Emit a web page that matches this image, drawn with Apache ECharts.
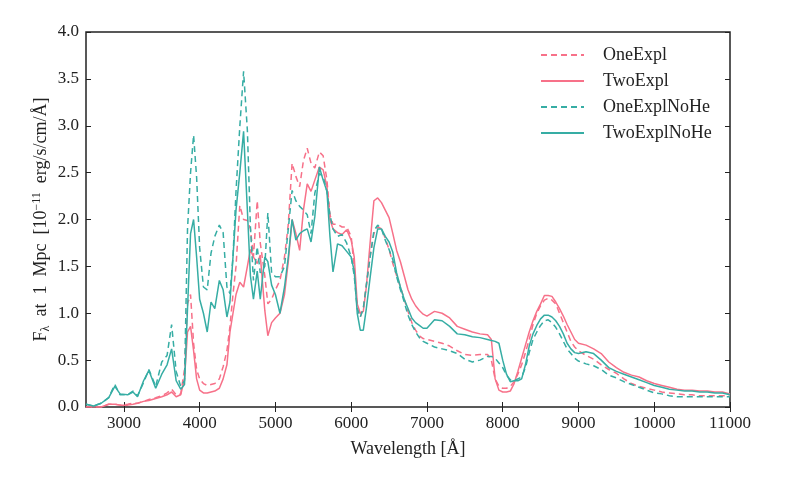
<!DOCTYPE html>
<html>
<head>
<meta charset="utf-8">
<script src="https://cdn.jsdelivr.net/npm/echarts@6/dist/echarts.min.js"></script>
<style>
  html, body { margin: 0; padding: 0; background: #fff; }
  #chart { width: 806px; height: 483px; }
</style>
</head>
<body>
<div id="chart"></div>
<script>
// wavelength grid [Angstrom], shared by all four spectra
var wavelength = [2500, 2600, 2700, 2800, 2880, 2950, 3050, 3120, 3180, 3260, 3330, 3420, 3500, 3570, 3630, 3690, 3750, 3800, 3840, 3880,
  3920, 3960, 4000, 4050, 4100, 4150, 4200, 4260, 4310, 4360, 4400, 4440, 4480, 4530, 4580, 4630, 4670, 4710, 4760, 4800,
  4860, 4900, 4950, 5000, 5060, 5120, 5170, 5220, 5270, 5320, 5370, 5420, 5470, 5520, 5580, 5630, 5680, 5720, 5760, 5820,
  5880, 5940, 6000, 6040, 6080, 6120, 6160, 6200, 6250, 6300, 6350, 6400, 6450, 6500, 6550, 6600, 6650, 6700, 6750, 6800,
  6850, 6900, 6950, 7000, 7100, 7200, 7300, 7400, 7500, 7600, 7700, 7800, 7850, 7900, 7950, 8000, 8050, 8100, 8150, 8200,
  8250, 8300, 8350, 8400, 8450, 8500, 8550, 8600, 8650, 8700, 8750, 8800, 8850, 8900, 8950, 9000, 9100, 9200, 9300, 9400,
  9500, 9600, 9700, 9800, 9900, 10000, 10100, 10200, 10300, 10400, 10500, 10600, 10700, 10800, 10900, 11000];

var oneExpl = [0.00, 0.00, 0.00, 0.03, 0.03, 0.02, 0.03, 0.04, 0.04, 0.06, 0.08, 0.10, 0.12, 0.15, 0.19, 0.13, 0.14, 0.40, 1.10, 1.20,
  0.68, 0.40, 0.30, 0.25, 0.23, 0.24, 0.25, 0.30, 0.43, 0.60, 0.86, 1.20, 1.50, 2.15, 2.00, 1.99, 1.90, 1.60, 2.20, 1.75,
  1.40, 1.10, 1.15, 1.25, 1.35, 1.60, 1.95, 2.60, 2.46, 2.35, 2.63, 2.76, 2.60, 2.55, 2.72, 2.68, 2.42, 2.05, 1.95, 1.95,
  1.92, 1.92, 1.82, 1.50, 1.05, 0.96, 1.05, 1.30, 1.60, 1.85, 1.92, 1.90, 1.80, 1.68, 1.53, 1.40, 1.28, 1.15, 1.02, 0.90,
  0.82, 0.76, 0.73, 0.72, 0.70, 0.68, 0.65, 0.60, 0.56, 0.55, 0.56, 0.56, 0.50, 0.30, 0.22, 0.20, 0.20, 0.22, 0.27, 0.35,
  0.45, 0.58, 0.72, 0.88, 1.00, 1.08, 1.14, 1.16, 1.14, 1.10, 1.00, 0.90, 0.80, 0.70, 0.64, 0.60, 0.55, 0.51, 0.45, 0.40,
  0.36, 0.30, 0.25, 0.22, 0.20, 0.18, 0.16, 0.15, 0.14, 0.13, 0.13, 0.12, 0.12, 0.12, 0.12, 0.12];

var twoExpl = [0.00, 0.00, 0.00, 0.03, 0.03, 0.02, 0.02, 0.03, 0.04, 0.06, 0.07, 0.09, 0.11, 0.13, 0.16, 0.11, 0.13, 0.30, 0.80, 0.86,
  0.60, 0.30, 0.18, 0.15, 0.15, 0.16, 0.17, 0.20, 0.30, 0.45, 0.80, 1.00, 1.20, 1.33, 1.28, 1.50, 1.68, 1.60, 1.53, 1.62,
  1.03, 0.76, 0.90, 0.95, 1.00, 1.20, 1.55, 2.00, 1.85, 1.67, 2.10, 2.38, 2.30, 2.42, 2.56, 2.53, 2.35, 2.00, 1.90, 1.86,
  1.84, 1.89, 1.78, 1.60, 1.10, 1.00, 1.02, 1.28, 1.75, 2.20, 2.23, 2.18, 2.10, 2.02, 1.85, 1.67, 1.55, 1.40, 1.25, 1.15,
  1.08, 1.03, 0.99, 0.97, 1.02, 1.00, 0.95, 0.86, 0.83, 0.80, 0.78, 0.77, 0.72, 0.30, 0.18, 0.16, 0.16, 0.17, 0.25, 0.38,
  0.52, 0.66, 0.80, 0.92, 1.02, 1.10, 1.19, 1.19, 1.18, 1.12, 1.05, 0.97, 0.88, 0.80, 0.72, 0.68, 0.66, 0.62, 0.57, 0.48,
  0.42, 0.37, 0.34, 0.32, 0.28, 0.25, 0.23, 0.21, 0.19, 0.18, 0.18, 0.17, 0.17, 0.16, 0.16, 0.14];

var oneExplNoHe = [0.03, 0.01, 0.04, 0.10, 0.24, 0.13, 0.13, 0.17, 0.12, 0.26, 0.40, 0.22, 0.48, 0.55, 0.88, 0.38, 0.22, 0.28, 1.90, 2.50,
  2.90, 2.45, 1.70, 1.28, 1.25, 1.64, 1.82, 1.94, 1.86, 1.28, 1.21, 1.60, 2.30, 2.99, 3.58, 2.95, 1.92, 1.35, 1.71, 1.43,
  1.50, 2.07, 1.43, 1.39, 1.39, 1.50, 1.90, 2.31, 2.20, 2.14, 2.10, 2.05, 1.85, 2.28, 2.49, 2.46, 2.30, 2.05, 1.90, 1.82,
  1.84, 1.75, 1.60, 1.40, 1.05, 0.96, 1.05, 1.30, 1.60, 1.88, 1.94, 1.90, 1.78, 1.68, 1.57, 1.39, 1.25, 1.12, 0.98, 0.88,
  0.80, 0.74, 0.70, 0.68, 0.64, 0.62, 0.60, 0.57, 0.51, 0.48, 0.50, 0.54, 0.54, 0.52, 0.47, 0.42, 0.34, 0.29, 0.28, 0.30,
  0.32, 0.42, 0.58, 0.72, 0.80, 0.87, 0.92, 0.93, 0.90, 0.85, 0.78, 0.70, 0.62, 0.57, 0.52, 0.49, 0.46, 0.44, 0.40, 0.34,
  0.31, 0.27, 0.24, 0.21, 0.18, 0.15, 0.14, 0.12, 0.11, 0.11, 0.11, 0.11, 0.11, 0.11, 0.11, 0.11];

var twoExplNoHe = [0.03, 0.01, 0.04, 0.10, 0.22, 0.14, 0.13, 0.16, 0.11, 0.28, 0.39, 0.20, 0.35, 0.45, 0.62, 0.28, 0.19, 0.24, 1.05, 1.85,
  2.00, 1.60, 1.15, 1.00, 0.80, 1.12, 1.05, 1.35, 1.25, 0.96, 1.12, 1.60, 2.10, 2.50, 2.94, 2.10, 1.40, 1.15, 1.45, 1.15,
  1.60, 1.55, 1.30, 1.20, 1.00, 1.28, 1.60, 2.00, 1.78, 1.85, 1.88, 1.90, 1.76, 2.03, 2.56, 2.42, 2.30, 1.82, 1.44, 1.74,
  1.72, 1.66, 1.60, 1.45, 1.00, 0.82, 0.82, 1.05, 1.38, 1.70, 1.90, 1.90, 1.82, 1.76, 1.65, 1.43, 1.28, 1.15, 1.05, 0.95,
  0.90, 0.87, 0.84, 0.84, 0.93, 0.92, 0.86, 0.78, 0.77, 0.75, 0.74, 0.72, 0.71, 0.70, 0.68, 0.50, 0.35, 0.27, 0.28, 0.28,
  0.30, 0.45, 0.65, 0.78, 0.87, 0.94, 0.98, 0.98, 0.96, 0.92, 0.86, 0.78, 0.68, 0.62, 0.58, 0.57, 0.59, 0.57, 0.50, 0.42,
  0.38, 0.35, 0.32, 0.29, 0.26, 0.23, 0.21, 0.19, 0.18, 0.17, 0.17, 0.16, 0.16, 0.15, 0.15, 0.13];

var xTicks = [3000, 4000, 5000, 6000, 7000, 8000, 9000, 10000, 11000];

var PINK = '#f77189';
var TEAL = '#36ada4';
var FONT = 'Liberation Serif';

function pairs(ys) {
  return wavelength.map(function (w, i) { return [w, ys[i]]; });
}

function spec(name, ys, color, dashed) {
  return {
    name: name,
    type: 'line',
    data: pairs(ys),
    symbol: 'none',
    silent: true,
    lineStyle: { color: color, width: 1.5, type: dashed ? [6, 4] : 'solid' },
    itemStyle: { color: color }
  };
}

var chart = echarts.init(document.getElementById('chart'));

var xCommon = {
  type: 'value', min: 2500, max: 11000,
  splitLine: { show: false },
  axisLine: { show: false },
  axisTick: { inside: true, length: 5, lineStyle: { color: '#222', width: 1 }, customValues: xTicks }
};
var yCommon = {
  type: 'value', min: 0, max: 4, interval: 0.5,
  splitLine: { show: false },
  axisLine: { show: false },
  axisTick: { inside: true, length: 5, lineStyle: { color: '#222', width: 1 } }
};

chart.setOption({
  animation: false,
  backgroundColor: '#fff',
  textStyle: { fontFamily: FONT },
  grid: { left: 86, right: 76, top: 32, bottom: 76, show: true, borderColor: '#222', borderWidth: 1.5, containLabel: false },
  xAxis: [
    Object.assign({}, xCommon, {
      position: 'bottom',
      name: 'Wavelength [Å]', nameLocation: 'middle', nameGap: 33, nameMoveOverlap: false,
      nameTextStyle: { fontFamily: FONT, fontSize: 18, color: '#222' },
      axisLabel: {
        customValues: xTicks, margin: 8, fontFamily: FONT, fontSize: 17, color: '#222',
        formatter: function (v) { return String(v); }
      }
    }),
    Object.assign({}, xCommon, { position: 'top', axisLabel: { show: false } })
  ],
  yAxis: [
    Object.assign({}, yCommon, {
      position: 'left',
      name: 'F{sub|λ}  at  1  Mpc  [10{sup|−11}  erg/s/cm/Å]',
      nameLocation: 'middle', nameGap: 34, nameMoveOverlap: false,
      nameTextStyle: {
        fontFamily: FONT, fontSize: 18, color: '#222',
        rich: {
          sub: { fontFamily: FONT, fontSize: 12, color: '#222', verticalAlign: 'bottom', padding: [9, 0, 0, 0] },
          sup: { fontFamily: FONT, fontSize: 12, color: '#222', verticalAlign: 'top', padding: [0, 0, 9, 0] }
        }
      },
      axisLabel: { margin: 7, fontFamily: FONT, fontSize: 17, color: '#222', formatter: function (v) { return v.toFixed(1); } }
    }),
    Object.assign({}, yCommon, { position: 'right', axisLabel: { show: false } })
  ],
  legend: {
    orient: 'vertical', left: 535, top: 41,
    itemWidth: 43, itemHeight: 14, itemGap: 8,
    itemStyle: { opacity: 0 },
    textStyle: { fontFamily: FONT, fontSize: 18, color: '#222', padding: [0, 0, 0, 14] },
    data: ['OneExpl', 'TwoExpl', 'OneExplNoHe', 'TwoExplNoHe']
  },
  series: [
    spec('OneExpl', oneExpl, PINK, true),
    spec('TwoExpl', twoExpl, PINK, false),
    spec('OneExplNoHe', oneExplNoHe, TEAL, true),
    spec('TwoExplNoHe', twoExplNoHe, TEAL, false)
  ]
});
</script>
</body>
</html>
